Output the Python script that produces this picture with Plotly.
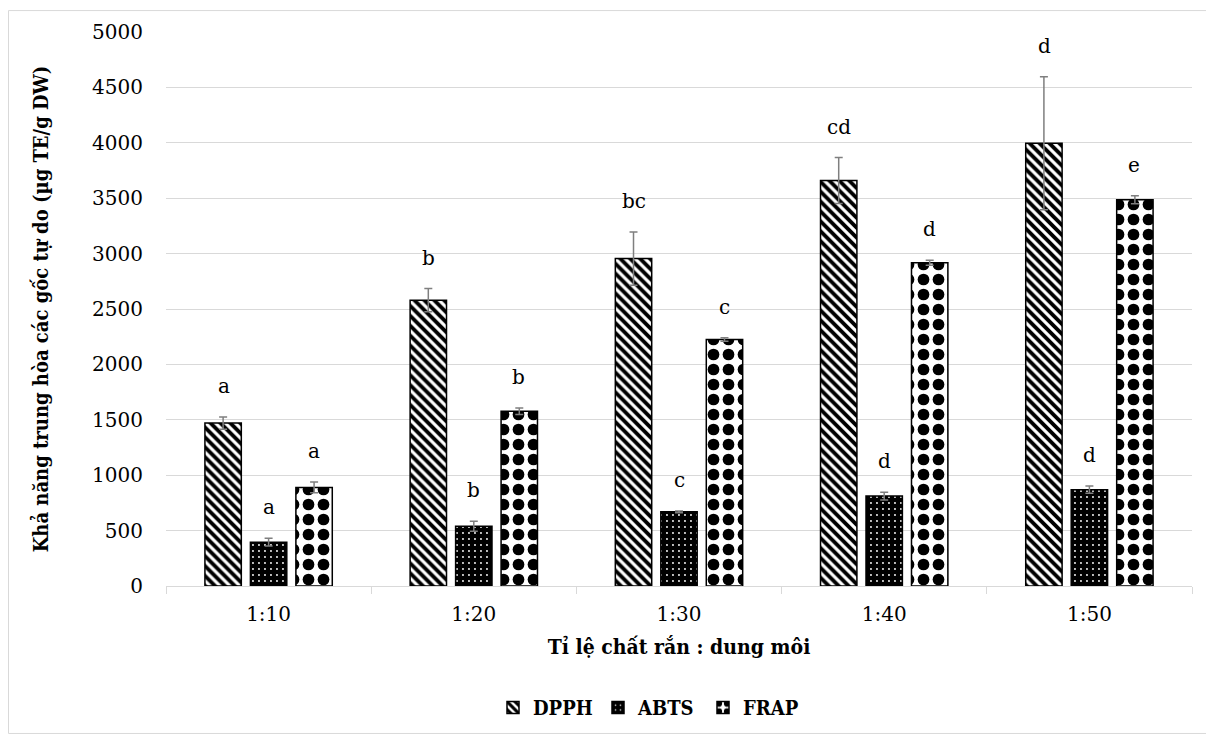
import plotly.graph_objects as go

categories = ["1:10", "1:20", "1:30", "1:40", "1:50"]
dpph = [1470, 2580, 2955, 3660, 3995]
dpph_err = [55, 105, 240, 207, 600]
abts = [395, 540, 670, 812, 869]
abts_err = [35, 45, 8, 35, 33]
frap = [890, 1577, 2225, 2917, 3486]
frap_err = [48, 30, 15, 23, 36]
dpph_letters = ["a", "b", "bc", "cd", "d"]
abts_letters = ["a", "b", "c", "d", "d"]
frap_letters = ["a", "b", "c", "d", "e"]

FONT = "DejaVu Serif"
FONT_C = "DejaVu Serif Condensed, DejaVu Serif"
FS = 20
FSB = 20
ERR_COLOR = "#7f7f7f"

def err(vals):
    return dict(type="data", array=vals, visible=True, color=ERR_COLOR,
                thickness=1.5, width=4)

fig = go.Figure()
fig.add_trace(go.Bar(
    name="DPPH", x=categories, y=dpph, error_y=err(dpph_err),
    marker=dict(color="white", line=dict(color="black", width=1.5),
                pattern=dict(shape="\\", fgcolor="black", bgcolor="white",
                             fgopacity=1, size=7, solidity=0.55, fillmode="overlay")),
))
fig.add_trace(go.Bar(
    name="ABTS", x=categories, y=abts, error_y=err(abts_err),
    marker=dict(color="black", line=dict(color="black", width=1.5),
                pattern=dict(shape=".", fgcolor="white", bgcolor="black",
                             fgopacity=1, size=6, solidity=0.08, fillmode="overlay")),
))
fig.add_trace(go.Bar(
    name="FRAP", x=categories, y=frap, error_y=err(frap_err),
    marker=dict(color="white", line=dict(color="black", width=1.5),
                pattern=dict(shape=".", fgcolor="black", bgcolor="white",
                             fgopacity=1, size=15, solidity=0.48, fillmode="overlay")),
))

offsets = [-1, 0, 1]
series = [(dpph, dpph_err, dpph_letters), (abts, abts_err, abts_letters),
          (frap, frap_err, frap_letters)]
slot = 0.2193
for k, (vals, errs, letters) in enumerate(series):
    for i, c in enumerate(categories):
        fig.add_annotation(
            x=i + offsets[k] * slot, y=vals[i] + errs[i], xref="x", yref="y",
            text=letters[i], showarrow=False, yanchor="middle", yshift=31,
            font=dict(family=FONT, size=FS, color="black"),
        )

FW, FH = 1214, 741
L, R, T, B = 158, 30, 22, 163
W, H = FW - L - R, FH - T - B
def px(xp):
    return (xp - L) / W
def py(yp):
    return (FH - B - yp) / H

fig.add_shape(type="rect", xref="paper", yref="paper",
              x0=px(0.5), x1=px(1199), y0=py(726), y1=py(0.5),
              line=dict(color="#d9d9d9", width=1), fillcolor="rgba(0,0,0,0)",
              layer="below")

fig.update_layout(
    width=FW, height=FH,
    margin=dict(l=L, r=R, t=T, b=B),
    paper_bgcolor="white", plot_bgcolor="white",
    barmode="group", bargap=0.335, bargroupgap=0.2,
    font=dict(family=FONT, size=FS, color="black"),
    showlegend=True,
    legend=dict(orientation="h", x=px(485), xanchor="left", y=py(700), yanchor="middle",
                font=dict(family=FONT_C, size=FSB, color="black", weight="bold"),
                itemwidth=30, traceorder="normal",
                entrywidth=60, entrywidthmode="pixels"),
    xaxis=dict(
        showline=True, linecolor="#d9d9d9", linewidth=1,
        ticks="outside", tickson="boundaries", ticklen=7, tickcolor="#d9d9d9",
        showgrid=False, ticklabelstandoff=10,
        tickfont=dict(family=FONT, size=FS, color="black"),
        title=dict(text="Tỉ lệ chất rắn : dung môi", standoff=14,
                   font=dict(family=FONT_C, size=21, color="black", weight="bold")),
    ),
    yaxis=dict(
        range=[0, 5000], dtick=500, tick0=0,
        showgrid=True, gridcolor="#d9d9d9", gridwidth=1,
        zeroline=False, showline=False, ticks="",
        ticklabelstandoff=22,
        tickfont=dict(family=FONT, size=FS, color="black"),
        title=dict(text="Khả năng trung hòa các gốc tự do (µg TE/g DW)", standoff=38,
                   font=dict(family=FONT_C, size=FSB, color="black", weight="bold")),
    ),
)

fig.write_html("out.html")
